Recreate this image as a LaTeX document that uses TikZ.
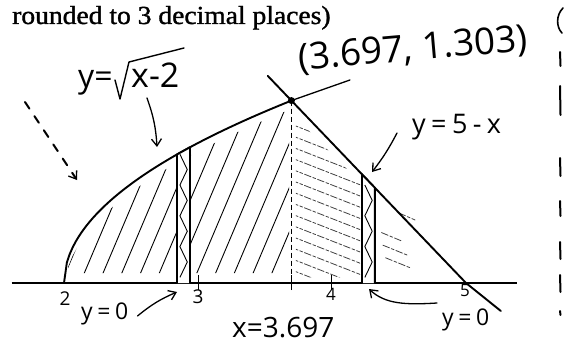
\documentclass[tikz,border=0pt]{standalone}
\usepackage{fontspec}
\setmainfont{Liberation Serif}
\newfontfamily\hand[LetterSpace=20]{Open Sans}
\newfontfamily\handtight{Open Sans}
\usetikzlibrary{arrows.meta}
\begin{document}
\begin{tikzpicture}[x=1pt,y=-1pt,
  thickline/.style={line width=1.9pt, line cap=round, line join=round},
  hatch/.style={line width=0.9pt, line cap=round},
  lighthatch/.style={line width=0.8pt, black!75, line cap=round, dash pattern=on 7pt off 2pt on 3pt off 2pt},
  handarrow/.style={line width=1.3pt, line cap=round, -{Straight Barb[length=7pt,width=10pt,line width=1.3pt]}},
  lbl/.style={inner sep=0pt, anchor=base west},
  ]
\useasboundingbox (0,0) rectangle (564,350);

% header text
\node[lbl, font=\fontsize{26}{30}\selectfont\addfontfeatures{FakeBold=1.2}] (hdr) at (12,24) {\scalebox{1.06}[1]{rounded to 3 decimal places)}};

% right-edge marks (next column of the scan)
\draw[line width=1.6pt, line cap=round] (563,8) .. controls (556,15) and (556,27) .. (562,33);
\foreach \a/\b in {52/66, 86/115, 158/176, 201/216, 242/259, 275/292, 311/315}
  \draw[line width=2pt, line cap=round] (560,\a) -- (560.5,\b);

\begin{scope}[x=134pt, y=140pt, shift={(-204pt,-283pt)}]
  \coordinate (P) at (3.697,1.303);
  \coordinate (Q) at (3.697,0);
  \coordinate (X5) at (5,0);
  \coordinate (Ptr) at (4.134,1.45);

  % hatching of the left region
  \begin{scope}
    \clip (2.03,0.07) -- plot[domain=2.03:3.68, samples=50] (\x,{sqrt(\x-2)-0.06}) -- (3.68,0.07) -- cycle;
    \foreach \s in {1.7,1.84,...,3.8}
      \draw[hatch] (\s,0) -- ++(0.62,1.4);
  \end{scope}

  % hatching of the right region
  \begin{scope}
    \clip (3.73,0.04) -- (3.73,1.18) -- (4.21,0.72) -- (4.21,0.04) -- cycle;
    \foreach \s in {0.05,0.13,...,1.7}
      \draw[lighthatch] (3.6,\s) -- ++(0.8,-0.3);
  \end{scope}
  \draw[lighthatch] (4.37,0.36) -- (4.52,0.30);
  \draw[lighthatch] (4.38,0.27) -- (4.56,0.20);
  \draw[lighthatch] (4.40,0.18) -- (4.58,0.11);
  \draw[lighthatch] (4.50,0.50) -- (4.62,0.45);

  % axis
  \draw[line width=1.6pt] (1.61,0) -- (5.38,0);
  \foreach \t in {3.007,3.697,3.993}
    \draw[line width=1pt] (\t,-0.05) -- (\t,0.06);

  % curve y = sqrt(x-2)
  \draw[thickline] plot[domain=2:3.697, samples=80] (\x,{sqrt(\x-2)});
  % line y = 5 - x
  \draw[thickline] (3.52,1.48) -- (P) -- (X5) -- (5.26,-0.2);

  % dashed vertical at x = 3.697
  \draw[line width=1pt, dash pattern=on 5pt off 3pt] (P) -- (Q);

  % strips
  \draw[thickline, fill=white] (2.843,0) -- (2.843,{sqrt(0.843)}) -- (2.94,{sqrt(0.94)}) -- (2.94,0);
  \draw[line width=0.9pt] (2.865,0.04) \foreach \k in {1,...,8} { -- ({ifthenelse(isodd(\k),2.92,2.865)},{0.04+0.11*\k}) };
  \draw[thickline, fill=white] (4.224,0) -- (4.224,0.776) -- (4.32,0.68) -- (4.32,0);
  \draw[line width=0.9pt] (4.245,0.04) \foreach \k in {1,...,6} { -- ({ifthenelse(isodd(\k),4.30,4.245)},{0.04+0.11*\k}) };

  % intersection point and pointer
  \fill (P) circle (3.5pt);
  \draw[line width=1.3pt, line cap=round] (P) -- (Ptr);
\end{scope}

% labels
\node[inner sep=0pt, font=\handtight\fontsize{37}{40}\selectfont, rotate=5] (pt) at (413,50) {(3.697, 1.303)};

\node[lbl, font=\handtight\fontsize{32}{34}\selectfont] (yeq) at (78,88) {y=};
\node[lbl, font=\handtight\fontsize{34}{36}\selectfont] (xm2) at (131,88) {x-2};
\draw[line width=1.4pt, line cap=round, line join=round] (115,80) -- (120,99) -- (129,62) -- (184,48);

\node[lbl, font=\hand\fontsize{27}{30}\selectfont] (y5) at (412,133) {y=5-x};
\node[lbl, font=\handtight\fontsize{28}{30}\selectfont] (xv) at (232,337) {x=3.697};
\node[lbl, font=\hand\fontsize{23}{26}\selectfont] (ylo) at (81,319) {y=0};
\node[lbl, font=\hand\fontsize{23}{26}\selectfont] (yr) at (442,325) {y=0};

\node[inner sep=0pt, anchor=base, font=\handtight\fontsize{19}{20}\selectfont] (n2) at (65,305) {2};
\node[inner sep=0pt, anchor=base, font=\handtight\fontsize{19}{20}\selectfont] (n3) at (198,303) {3};
\node[inner sep=0pt, anchor=base, font=\handtight\fontsize{17}{20}\selectfont] (n4) at (331,300) {4};
\node[inner sep=0pt, anchor=base, font=\handtight\fontsize{17}{20}\selectfont] (n5) at (465,296) {5};

% arrows
\coordinate (a1) at (157,147);
\draw[handarrow] ([xshift=16pt,yshift=-10pt]xm2.base west) to[bend left=8] (a1);

\coordinate (d1) at (25,102);
\coordinate (d2) at (77,180);
\draw[handarrow, line width=2pt, dash pattern=on 8pt off 9pt] (d1) -- (d2);

\coordinate (a2) at (372,172);
\draw[handarrow] ([xshift=-15pt]y5.base west) to[bend left=5] (a2);

\coordinate (a3) at (177,292);
\draw[handarrow] ([xshift=9pt,yshift=3pt]ylo.base east) to[bend left=8] (a3);

\coordinate (a4) at (369,289);
\draw[handarrow] ([xshift=-5pt,yshift=22pt]yr.base west) .. controls (405,305) and (385,304) .. (a4);
\end{tikzpicture}
\end{document}
